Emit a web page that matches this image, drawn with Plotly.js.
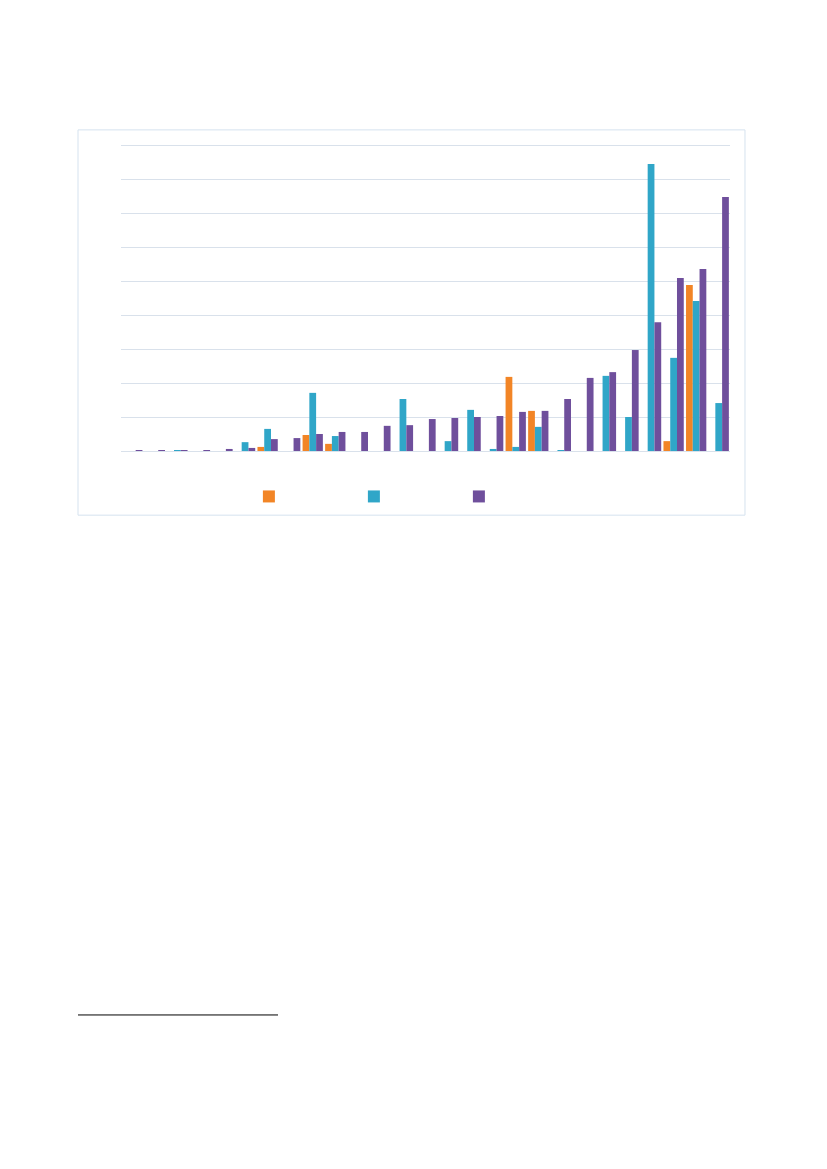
<!DOCTYPE html>
<html>
<head>
<meta charset="utf-8">
<script src="https://cdn.plot.ly/plotly-3.0.1.min.js"></script>
<style>
  html, body { margin: 0; padding: 0; background: #fff; }
  #chart { width: 827px; height: 1169px; }
</style>
</head>
<body>
<div id="chart"></div>
<script>
// categories (the reference shows no labels, so they are just numbered)
var categories = ['1', '2', '3', '4', '5', '6', '7', '8', '9', '10', '11', '12', '13', '14',
                  '15', '16', '17', '18', '19', '20', '21', '22', '23', '24', '25', '26', '27'];

// values, in grid units x10
var orangeVals = [0, 0, 0, 0, 0, 0, 1.2, 0, 4.7, 2.1, 0, 0, 0, 0,
                  0, 0, 0, 21.8, 11.8, 0, 0, 0, 0, 0, 2.9, 48.8, 0];
var cyanVals   = [0, 0, 0.3, 0, 0, 2.6, 6.5, 0, 17.1, 4.4, 0, 0, 15.3, 0,
                  2.9, 12.1, 0.6, 1.2, 7.1, 0.3, 0, 22.1, 10.0, 84.4, 27.4, 44.1, 14.1];
var purpleVals = [0.3, 0.3, 0.3, 0.3, 0.6, 0.9, 3.5, 3.8, 5.0, 5.6, 5.6, 7.4, 7.6, 9.4,
                  9.7, 10.0, 10.3, 11.5, 11.8, 15.3, 21.5, 23.2, 29.7, 37.9, 50.9, 53.5, 74.7];

var gridColor = '#d9e1eb';

var orange = {
    x: categories,
    y: orangeVals,
    type: 'bar',
    name: ' ',
    marker: {color: '#f28526'}
};

var cyan = {
    x: categories,
    y: cyanVals,
    type: 'bar',
    name: ' ',
    marker: {color: '#30a6c8'}
};

var purple = {
    x: categories,
    y: purpleVals,
    type: 'bar',
    name: ' ',
    marker: {color: '#6f4f9c'}
};

var layout = {
    width: 827,
    height: 1169,
    paper_bgcolor: '#ffffff',
    plot_bgcolor: '#ffffff',
    margin: {l: 121, r: 97, t: 144, b: 718, pad: 0},
    barmode: 'group',
    bargap: 0.1,
    bargroupgap: 0,
    showlegend: true,
    hovermode: false,
    legend: {
        orientation: 'h',
        x: 0.210,
        xanchor: 'left',
        y: -0.148,
        yanchor: 'middle',
        entrywidth: 60,
        entrywidthmode: 'pixels',
        font: {family: 'Liberation Sans', size: 10, color: '#595959'}
    },
    xaxis: {
        type: 'category',
        showticklabels: false,
        showgrid: false,
        zeroline: false,
        showline: true,
        linecolor: gridColor,
        linewidth: 1,
        ticks: ''
    },
    yaxis: {
        range: [0, 90.3],
        tickvals: [10, 20, 30, 40, 50, 60, 70, 80, 90],
        showticklabels: false,
        showgrid: true,
        gridcolor: gridColor,
        gridwidth: 1,
        zeroline: false,
        ticks: ''
    },
    shapes: [
        // chart frame
        {type: 'rect', xref: 'paper', yref: 'paper',
         x0: -0.0706, x1: 1.0246, y0: -0.209, y1: 1.046,
         line: {color: '#d5e2ef', width: 1}},
        // footnote separator
        {type: 'line', xref: 'paper', yref: 'paper',
         x0: -0.0706, x1: 0.2578, y0: -1.837, y1: -1.837,
         line: {color: '#000000', width: 1}}
    ]
};

Plotly.newPlot('chart', [orange, cyan, purple], layout, {displayModeBar: false, staticPlot: true});
</script>
</body>
</html>
